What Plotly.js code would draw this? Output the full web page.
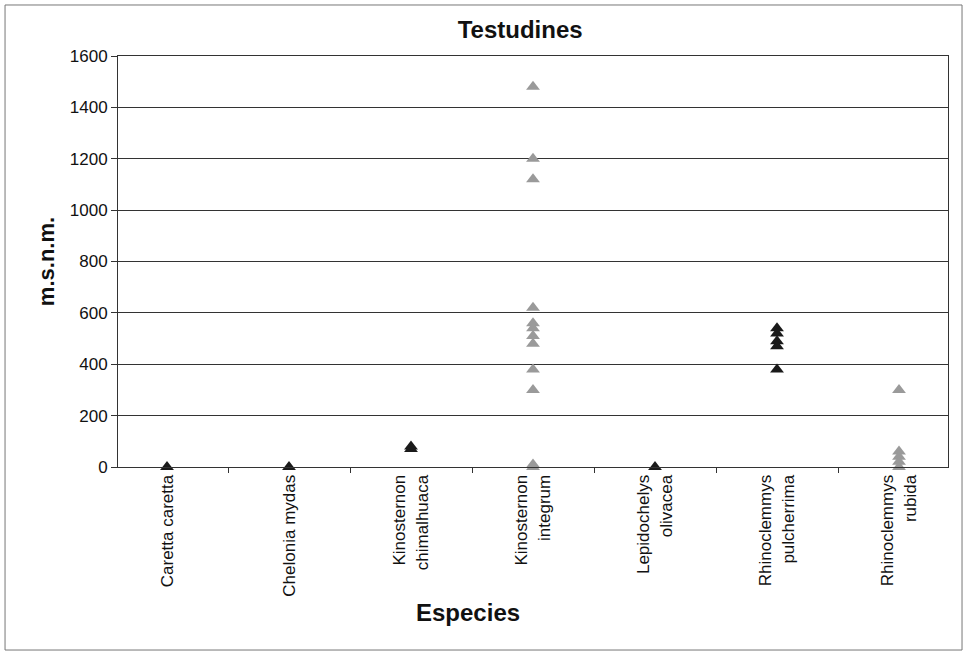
<!DOCTYPE html>
<html>
<head>
<meta charset="utf-8">
<script src="https://cdn.plot.ly/plotly-3.0.1.min.js"></script>
<style>
  html, body { margin: 0; padding: 0; background: #fff; }
  #chart { width: 965px; height: 653px; }
</style>
</head>
<body>
<div id="chart"></div>
<script>
// Species (axis categories) and their tick labels
const species = [
  "Caretta caretta",
  "Chelonia mydas",
  "Kinosternon chimalhuaca",
  "Kinosternon integrum",
  "Lepidochelys olivacea",
  "Rhinoclemmys pulcherrima",
  "Rhinoclemmys rubida"
];
const tickLabels = [
  "Caretta caretta",
  "Chelonia mydas",
  "Kinosternon<br>chimalhuaca",
  "Kinosternon<br>integrum",
  "Lepidochelys<br>olivacea",
  "Rhinoclemmys<br>pulcherrima",
  "Rhinoclemmys<br>rubida"
];

// Altitude records (m.s.n.m.) for each species
const carettaCaretta = [0];
const cheloniaMydas = [0];
const kinosternonChimalhuaca = [70, 80];
const kinosternonIntegrum = [1480, 1200, 1120, 620, 560, 540, 510, 480, 380, 300, 10, 0];
const lepidochelysOlivacea = [0];
const rhinoclemmysPulcherrima = [540, 520, 490, 470, 380];
const rhinoclemmysRubida = [300, 60, 40, 20, 0];

const seriesValues = [
  carettaCaretta, cheloniaMydas, kinosternonChimalhuaca, kinosternonIntegrum,
  lepidochelysOlivacea, rhinoclemmysPulcherrima, rhinoclemmysRubida
];
const markerColors = ["#1a1a1a", "#1a1a1a", "#1a1a1a", "#9a9a9a", "#1a1a1a", "#1a1a1a", "#9a9a9a"];

const traces = species.map((name, i) => ({
  type: "scatter",
  mode: "markers",
  name: name,
  x: seriesValues[i].map(() => name),
  y: seriesValues[i],
  cliponaxis: false,
  marker: {
    symbol: "triangle-up",
    size: 12,
    color: markerColors[i],
    line: { width: 0 }
  },
  hoverinfo: "x+y"
}));

const layout = {
  width: 965,
  height: 653,
  margin: { l: 118, r: 17, t: 56, b: 186 },
  paper_bgcolor: "#ffffff",
  plot_bgcolor: "#ffffff",
  showlegend: false,
  font: { family: "Liberation Sans, Arial, sans-serif", color: "#111", size: 17 },
  title: {
    text: "<b>Testudines</b>",
    font: { size: 24, color: "#111" },
    x: 0.539, xanchor: "center",
    y: 0.954, yanchor: "middle"
  },
  xaxis: {
    type: "category",
    categoryorder: "array",
    categoryarray: species,
    tickvals: species,
    ticktext: tickLabels,
    tickangle: -90,
    tickson: "boundaries",
    ticks: "outside",
    ticklen: 5,
    tickcolor: "#333",
    showline: true,
    linecolor: "#333",
    linewidth: 1,
    mirror: true,
    showgrid: false,
    zeroline: false,
    tickfont: { size: 17, color: "#111" }
  },
  yaxis: {
    range: [0, 1600],
    tickvals: [0, 200, 400, 600, 800, 1000, 1200, 1400, 1600],
    ticks: "outside",
    ticklen: 6,
    tickcolor: "#333",
    showline: true,
    linecolor: "#333",
    linewidth: 1,
    mirror: true,
    showgrid: true,
    gridcolor: "#333",
    gridwidth: 1,
    zeroline: false,
    tickfont: { size: 17, color: "#111" },
    title: {
      text: "<b>m.s.n.m.</b>",
      font: { size: 22, color: "#111" },
      standoff: 9
    }
  },
  annotations: [{
    text: "<b>Especies</b>",
    xref: "paper", yref: "paper",
    x: 0.4217, y: -0.353,
    xanchor: "center", yanchor: "middle",
    showarrow: false,
    font: { size: 24, color: "#111" }
  }],
  shapes: [{
    type: "rect",
    xref: "paper", yref: "paper",
    x0: -0.1361, x1: 1.0169,
    y0: -0.4453, y1: 1.1241,
    line: { color: "#777", width: 1 },
    fillcolor: "rgba(0,0,0,0)",
    layer: "below"
  }]
};

Plotly.newPlot("chart", traces, layout, { displayModeBar: false, staticPlot: true });
</script>
</body>
</html>
